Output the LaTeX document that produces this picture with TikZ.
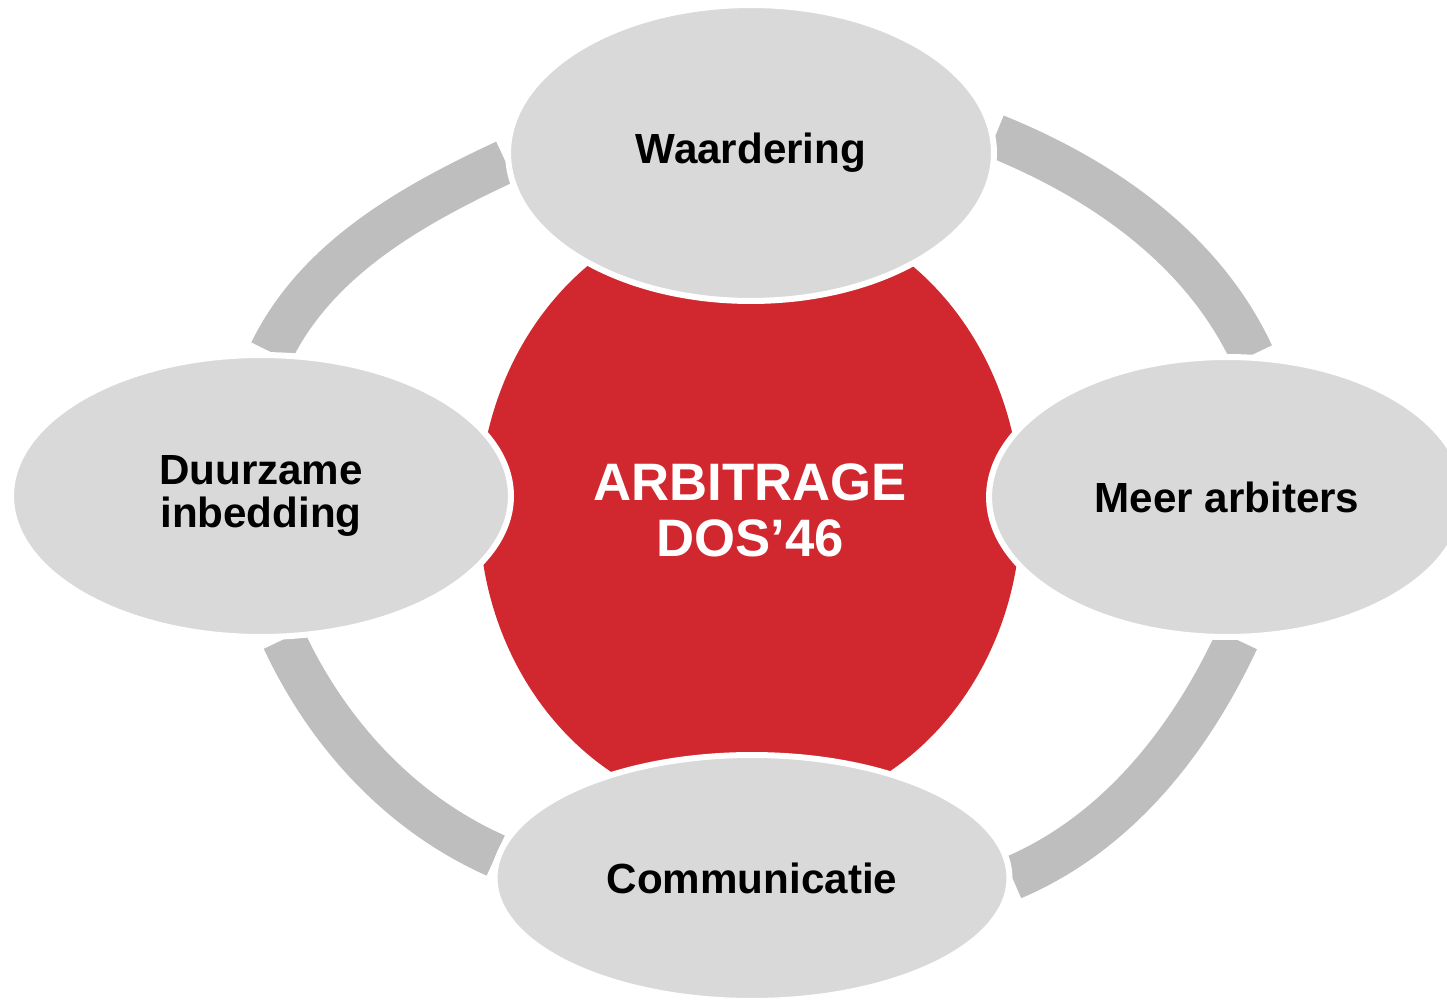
\documentclass[tikz,border=0pt]{standalone}
\usepackage{fontspec}
\setmainfont{Liberation Sans}
\usetikzlibrary{shapes.geometric, backgrounds}
\definecolor{arbred}{RGB}{208,40,46}
\definecolor{bubblegray}{RGB}{217,217,217}
\definecolor{ringgray}{RGB}{190,190,190}

\begin{document}
\begin{tikzpicture}[x=0.02cm, y=0.02cm,
    bubble/.style={ellipse, fill=bubblegray, draw=white, line width=0.12cm, inner sep=0pt, align=center, font=\fontsize{24}{24.5}\selectfont\bfseries},
    ring/.style={draw=ringgray, line width=0.88cm, looseness=0.88}]
    \useasboundingbox (0,0) rectangle (1447,1002);
    \node (Arb) [ellipse, fill=arbred, inner sep=0pt, minimum width=10.84cm, minimum height=12.2cm, align=center, text=white, font=\fontsize{30}{32}\selectfont\bfseries] at (750,492) {ARBITRAGE\\DOS’46};
    \node (Waard) [bubble, minimum width=9.72cm, minimum height=5.92cm] at (751,849) {Waardering};
    \node (Meer) [bubble, minimum width=9.52cm, minimum height=5.6cm] at (1227,505) {Meer arbiters};
    \node (Comm) [bubble, minimum width=10.3cm, minimum height=4.92cm] at (752,124) {Communicatie};
    \node (Duur) [bubble, minimum width=10cm, minimum height=5.64cm] at (261,506) {Duurzame\\inbedding};
    % Grey ring between the bubbles
    \begin{scope}[on background layer]
        \draw [ring] (Waard.4) to[out=-22, in=115] (Meer.80);
        \draw [ring] (Meer.274) to[out=245, in=23] (Comm.0);
        \draw [ring] (Waard.182) to[out=205, in=64] (Duur.86);
        \draw [ring] (Duur.279) to[out=-65, in=156] (Comm.175);
    \end{scope}
\end{tikzpicture}
\end{document}
